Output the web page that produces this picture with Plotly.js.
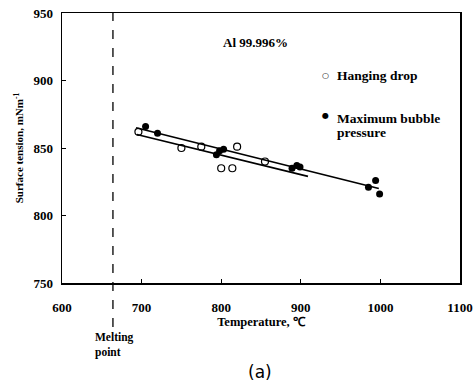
<!DOCTYPE html>
<html><head><meta charset="utf-8">
<script src="https://cdn.plot.ly/plotly-3.0.1.min.js"></script>
<style>body{margin:0;background:#fff}#c{width:474px;height:383px}</style>
</head><body><div id="c"></div>
<script>
// Hanging drop (open circles)
const hangT = [696, 750, 775, 800, 814, 820, 855];
const hangS = [862, 850, 851, 835, 835, 851, 840];
// Maximum bubble pressure (filled circles)
const bubT = [705, 720, 794, 798, 803, 889, 895, 899, 985, 994, 999];
const bubS = [866, 861, 845, 848, 849, 835, 837, 836, 821, 826, 816];
// Fitted lines (endpoints)
const fitHangT = [694, 909];
const fitHangS = [860, 829];
const fitBubT = [693, 998];
const fitBubS = [865, 820];
const meltingT = 664;
const xTicks = [600, 700, 800, 900, 1000, 1100];
const yTicks = [750, 800, 850, 900, 950];

const F = 'Liberation Serif, Times New Roman, serif';
const traces = [
  {x: fitHangT, y: fitHangS, mode: 'lines', line: {color: '#000', width: 1.8}, hoverinfo: 'skip'},
  {x: fitBubT, y: fitBubS, mode: 'lines', line: {color: '#000', width: 1.8}, hoverinfo: 'skip'},
  {x: hangT, y: hangS, mode: 'markers', marker: {symbol: 'circle-open', size: 7, color: '#000', line: {width: 1.2}}},
  {x: bubT, y: bubS, mode: 'markers', marker: {symbol: 'circle', size: 7, color: '#000'}}
];
function ann(x, y, text, size, xanchor, family) {
  return {xref: 'paper', yref: 'paper', x: x, y: y, text: text, showarrow: false,
    xanchor: xanchor || 'center', yanchor: 'middle', align: 'left',
    font: {family: family || F, size: size}};
}
const layout = {
  width: 474, height: 383,
  margin: {l: 62, r: 14, t: 13, b: 100},
  showlegend: false,
  paper_bgcolor: '#fff', plot_bgcolor: '#fff',
  font: {family: F, color: '#000'},
  xaxis: {range: [600, 1100], tickvals: xTicks, ticktext: xTicks.map(v => '<b>' + v + '</b>'),
    ticks: 'inside', ticklen: 4, tickcolor: '#000', showgrid: false, zeroline: false,
    showline: true, linecolor: '#000', linewidth: 1.5, mirror: true, ticklabelstandoff: 12,
    tickfont: {family: F, size: 13},
    title: {text: '<b>Temperature, ℃</b>', font: {family: F, size: 12.5}, standoff: 1}},
  yaxis: {range: [750, 950], tickvals: yTicks, ticktext: yTicks.map(v => '<b>' + v + '</b>'),
    ticks: 'inside', ticklen: 4, tickcolor: '#000', showgrid: false, zeroline: false,
    showline: true, linecolor: '#000', linewidth: 1.5, mirror: true, ticklabelstandoff: 5,
    tickfont: {family: F, size: 13},
    title: {text: '<b>Surface tension, mNm<sup>-1</sup></b>', font: {family: F, size: 11}, standoff: 7}},
  shapes: [
    {type: 'line', xref: 'x', yref: 'paper', x0: meltingT, x1: meltingT, y0: -0.163, y1: 1,
     line: {color: '#000', width: 1.3, dash: 'dash'}}
  ],
  annotations: [
    ann(0.485, 0.889, '<b>Al 99.996%</b>', 13),
    ann(0.661, 0.770, '○', 8, 'center', 'DejaVu Sans, sans-serif'),
    ann(0.686, 0.767, '<b>Hanging drop</b>', 13.5, 'left'),
    ann(0.663, 0.622, '●', 8, 'center', 'DejaVu Sans, sans-serif'),
    ann(0.686, 0.611, '<b>Maximum bubble</b>', 13.5, 'left'),
    ann(0.686, 0.556, '<b>pressure</b>', 13.5, 'left'),
    ann(0.078, -0.231, '<b>Melting<br>point</b>', 11.5, 'left'),
    ann(0.497, -0.33, '(a)', 17, 'center', 'DejaVu Sans, sans-serif')
  ]
};
Plotly.newPlot('c', traces, layout, {displayModeBar: false, staticPlot: true});
</script></body></html>
